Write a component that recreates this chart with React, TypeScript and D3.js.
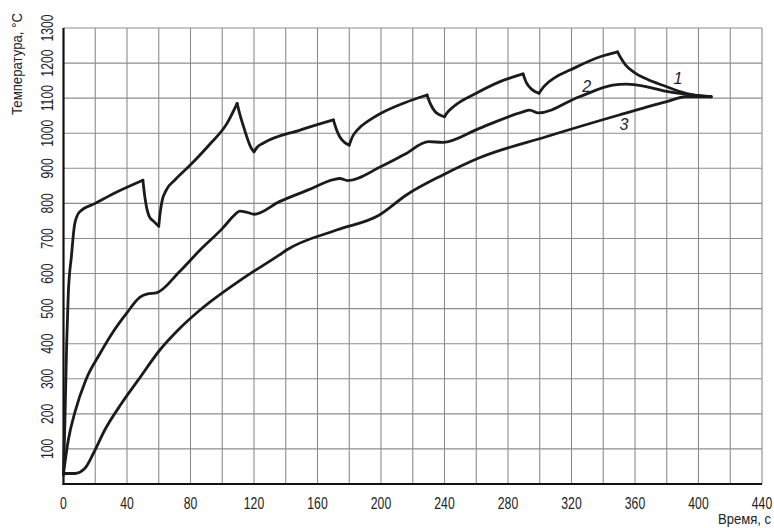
import React from "react";
import * as d3 from "d3";

// Кривая 1 (с изломами в моменты t из curve1Cusps)
const curve1Time = [0, 1, 2, 3, 5, 7, 10, 20, 32, 50,
  51.2, 52.5, 54, 57, 60,
  60.8, 62, 65, 70, 80, 92, 103, 109.4,
  111, 113, 116, 118, 120,
  122, 126, 149, 170,
  172, 174, 177, 180,
  182, 185, 192, 200, 215, 229,
  231, 234, 240,
  242, 246, 260, 275, 289.5,
  291.5, 295, 299.5,
  303, 310, 319, 338, 349,
  351, 354, 359, 368, 378, 392, 408];
const curve1Temp = [25, 200, 400, 540, 650, 740, 775, 800, 829, 866,
  820, 785, 763, 748, 735,
  770, 805, 840, 866, 910, 968, 1028, 1085,
  1055, 1025, 983, 960, 947,
  960, 972, 1009, 1038,
  1010, 990, 974, 966,
  990, 1009, 1035, 1057, 1087, 1109,
  1085, 1062, 1047,
  1060, 1077, 1114, 1147, 1169,
  1145, 1125, 1114,
  1135, 1160, 1180, 1218, 1232,
  1215, 1195, 1175, 1153, 1136, 1114, 1104];
const curve1Cusps = [50, 60, 109.4, 120, 170, 180, 229, 240, 289.5, 299.5, 349];

const curve2Time = [0, 3, 7.2, 14, 23, 31.3, 39.8, 48, 53, 58.5, 73, 86, 100, 108, 111, 116, 120,
  136, 155, 170, 174, 179, 200, 215, 230, 239, 262, 289.4, 293.6, 299, 325, 346, 354.5,
  367, 380, 394, 408];
const curve2Temp = [30, 125, 205, 296, 372, 434, 487, 532, 542, 545, 605, 667, 728, 768, 778, 774, 769,
  805, 840, 868, 871, 865, 905, 940, 976, 974, 1014, 1061, 1066, 1058, 1104, 1137, 1140,
  1133, 1119, 1110, 1104];

const curve3Time = [0, 7, 13.5, 18.8, 26, 36.6, 47, 60.7, 73.3, 86, 113, 136, 140.5, 172, 199, 216, 239,
  262, 304, 350, 380, 392, 408];
const curve3Temp = [30, 30, 45, 87, 154, 230, 296, 382, 444, 496, 586, 653, 667, 724, 767, 824, 881,
  930, 990, 1052, 1090, 1104, 1104];

const xTicks = [0, 40, 80, 120, 160, 200, 240, 280, 320, 360, 400, 440];
const yTicks = [100, 200, 300, 400, 500, 600, 700, 800, 900, 1000, 1100, 1200, 1300];
const curveLabels = ["1", "2", "3"];
const labelTime = [387, 329.5, 353];
const labelTemp = [1157, 1135, 1026];

const W = 774;
const H = 528;
const font = "'Liberation Sans', Arial, sans-serif";
const squeeze = 0.74;

const App = () => {
  const x = d3.scaleLinear().domain([0, 440]).range([63.5, 762]);
  const y = d3.scaleLinear().domain([0, 1300]).range([484, 28]);

  const line = d3
    .line<[number, number]>()
    .x((d) => x(d[0]))
    .y((d) => y(d[1]))
    .curve(d3.curveMonotoneX);

  // split curve 1 into smooth pieces between cusps
  const pts1: [number, number][] = curve1Time.map((t, i) => [t, curve1Temp[i]]);
  const segs: [number, number][][] = [];
  let cur: [number, number][] = [];
  pts1.forEach((p) => {
    cur.push(p);
    if (curve1Cusps.includes(p[0])) {
      segs.push(cur);
      cur = [p];
    }
  });
  if (cur.length > 1) segs.push(cur);

  const pts2: [number, number][] = curve2Time.map((t, i) => [t, curve2Temp[i]]);
  const pts3: [number, number][] = curve3Time.map((t, i) => [t, curve3Temp[i]]);

  const gridX = d3.range(20, 441, 20);
  const gridY = d3.range(100, 1301, 100);

  return (
    <svg
      width={W}
      height={H}
      viewBox={`0 0 ${W} ${H}`}
      style={{ position: "absolute", left: 0, top: 0, background: "#fff" }}
    >
      <g stroke="#8c8c8c" strokeWidth={1.1}>
        {gridX.map((v) => (
          <line key={"gx" + v} x1={x(v)} x2={x(v)} y1={y(0)} y2={y(1300)} />
        ))}
        {gridY.map((v) => (
          <line key={"gy" + v} x1={x(0)} x2={x(440)} y1={y(v)} y2={y(v)} />
        ))}
      </g>
      <line x1={x(0)} x2={x(0)} y1={y(0) + 1} y2={y(1300)} stroke="#111" strokeWidth={2.2} />
      <line x1={x(0) - 1} x2={x(440)} y1={y(0)} y2={y(0)} stroke="#111" strokeWidth={2.2} />

      <g fill="none" stroke="#1b1b1b" strokeWidth={2.8} strokeLinejoin="round" strokeLinecap="round">
        {segs.map((s, i) => (
          <path key={"s" + i} d={line(s) || ""} />
        ))}
        <path d={line(pts2) || ""} />
        <path d={line(pts3) || ""} />
      </g>

      <g fontFamily={font} fontSize={16.5} fill="#222">
        {xTicks.map((v) => (
          <text
            key={"xt" + v}
            transform={`translate(${x(v)},509) scale(${squeeze},1)`}
            textAnchor="middle"
          >
            {v}
          </text>
        ))}
        {yTicks.map((v) => (
          <text
            key={"yt" + v}
            transform={`translate(53,${y(v)}) rotate(-90) scale(${squeeze},1)`}
            textAnchor="middle"
          >
            {v}
          </text>
        ))}
      </g>
      <text
        x={718}
        y={524}
        textLength={53}
        lengthAdjust="spacingAndGlyphs"
        fontFamily={font}
        fontSize={14}
        fill="#222"
      >
        Время, с
      </text>
      <text
        transform={`translate(22,115) rotate(-90)`}
        textLength={102}
        lengthAdjust="spacingAndGlyphs"
        fontFamily={font}
        fontSize={14}
        fill="#222"
      >
        Температура, °C
      </text>
      <g fontFamily={font} fontSize={16} fontStyle="italic" fill="#222">
        {curveLabels.map((l, i) => (
          <text key={"l" + l} x={x(labelTime[i])} y={y(labelTemp[i]) + 6} textAnchor="middle">
            {l}
          </text>
        ))}
      </g>
    </svg>
  );
};

export default App;
